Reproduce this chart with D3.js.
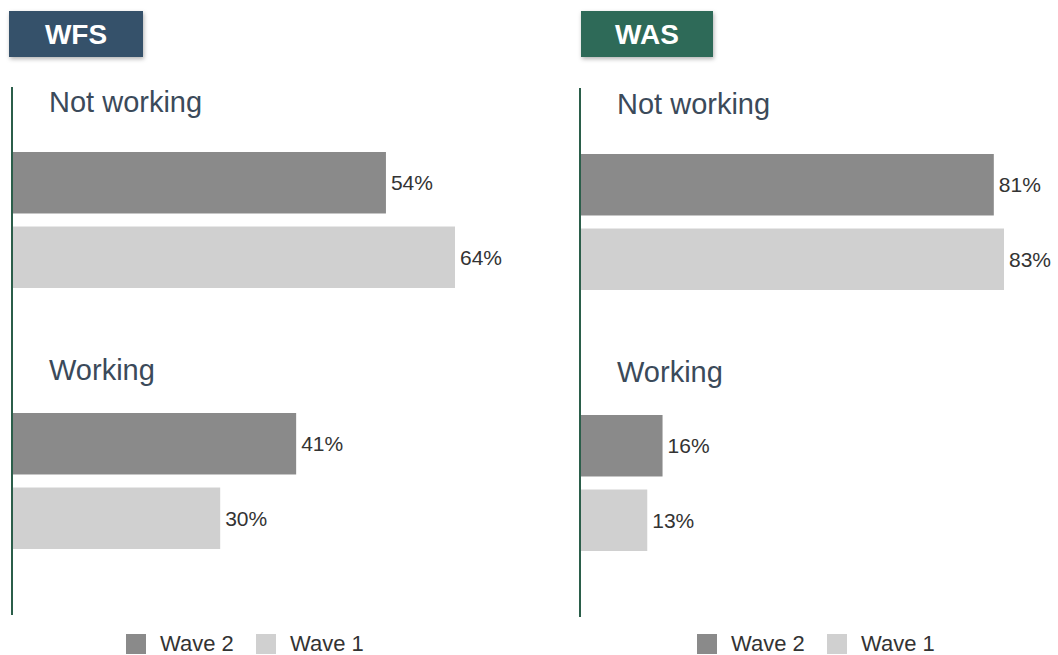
<!DOCTYPE html>
<html>
<head>
<meta charset="utf-8">
<script src="https://cdn.jsdelivr.net/npm/d3@7"></script>
<style>
  html, body { margin: 0; padding: 0; background: #ffffff; }
  svg { display: block; font-family: "Liberation Sans", Arial, Helvetica, sans-serif; }
</style>
</head>
<body>
<svg id="chart" width="1058" height="655"></svg>
<script>
// Employment status shares by survey wave, two surveys side by side
const categories = ["Not working", "Working"];
const waves = ["Wave 2", "Wave 1"];
const wfsWave2 = [54, 41];
const wfsWave1 = [64, 30];
const wasWave2 = [81, 16];
const wasWave1 = [83, 13];
const surveys = ["WFS", "WAS"];

const waveColor = d3.scaleOrdinal().domain(waves).range(["#8a8a8a", "#d0d0d0"]);
// baseline of each category heading, measured from the top of its band
const labelOffset = { "Not working": 24, "Working": 31 };

const svg = d3.select("#chart");

const defs = svg.append("defs");
const shadow = defs.append("filter").attr("id", "badgeShadow")
  .attr("x", "-10%").attr("y", "-20%").attr("width", "130%").attr("height", "160%");
shadow.append("feDropShadow")
  .attr("dx", 1).attr("dy", 2).attr("stdDeviation", 2)
  .attr("flood-color", "#000").attr("flood-opacity", 0.3);

const panels = [
  {
    name: surveys[0], badgeColor: "#34516a",
    badge: [9, 11, 134, 46],
    axisX: 12, axisY: [87, 615],
    xRange: [13, 455], xMax: 64,
    yRange: [88, 610],
    values: [wfsWave2, wfsWave1],
    legendX: 126
  },
  {
    name: surveys[1], badgeColor: "#2e6b58",
    badge: [581, 11, 132, 46],
    axisX: 580, axisY: [88, 617],
    xRange: [581, 1004], xMax: 83,
    yRange: [90, 612],
    values: [wasWave2, wasWave1],
    legendX: 697
  }
];

panels.forEach(p => {
  const g = svg.append("g");

  // survey badge
  g.append("rect")
    .attr("x", p.badge[0]).attr("y", p.badge[1])
    .attr("width", p.badge[2]).attr("height", p.badge[3])
    .attr("fill", p.badgeColor)
    .attr("filter", "url(#badgeShadow)");
  g.append("text")
    .attr("x", p.badge[0] + p.badge[2] / 2)
    .attr("y", p.badge[1] + p.badge[3] / 2)
    .attr("dy", "0.36em")
    .attr("text-anchor", "middle")
    .attr("font-size", 28).attr("font-weight", "bold")
    .attr("fill", "#ffffff")
    .text(p.name);

  const x = d3.scaleLinear().domain([0, p.xMax]).range(p.xRange);
  const y = d3.scaleBand().domain(categories).range(p.yRange).padding(0);
  const yInner = d3.scaleBand().domain(waves).range([64, 200]).paddingInner(0.175).paddingOuter(0);

  const rows = categories.map((c, i) => ({
    category: c,
    bars: waves.map((w, j) => ({ wave: w, value: p.values[j][i] }))
  }));

  const cat = g.selectAll("g.cat").data(rows).join("g")
    .attr("class", "cat")
    .attr("transform", d => `translate(0,${y(d.category)})`);

  cat.append("text")
    .attr("x", p.axisX + 37)
    .attr("y", d => labelOffset[d.category])
    .attr("font-size", 29)
    .attr("fill", "#3b4a5a")
    .text(d => d.category);

  const bar = cat.selectAll("g.bar").data(d => d.bars).join("g").attr("class", "bar");

  bar.append("rect")
    .attr("x", x(0))
    .attr("y", d => yInner(d.wave))
    .attr("width", d => x(d.value) - x(0))
    .attr("height", yInner.bandwidth())
    .attr("fill", d => waveColor(d.wave));

  bar.append("text")
    .attr("x", d => x(d.value) + 5)
    .attr("y", d => yInner(d.wave) + yInner.bandwidth() / 2)
    .attr("dy", "0.36em")
    .attr("font-size", 21)
    .attr("fill", "#333333")
    .text(d => d.value + "%");

  // vertical baseline
  g.append("line")
    .attr("x1", p.axisX).attr("x2", p.axisX)
    .attr("y1", p.axisY[0]).attr("y2", p.axisY[1])
    .attr("stroke", "#2b5e4a").attr("stroke-width", 2);

  // legend
  const leg = g.append("g").attr("transform", `translate(${p.legendX},0)`);
  const offsets = [0, 130];
  waves.forEach((w, i) => {
    leg.append("rect")
      .attr("x", offsets[i]).attr("y", 634)
      .attr("width", 20).attr("height", 20)
      .attr("fill", waveColor(w));
    leg.append("text")
      .attr("x", offsets[i] + 34).attr("y", 651)
      .attr("font-size", 22)
      .attr("fill", "#333333")
      .text(w);
  });
});
</script>
</body>
</html>
